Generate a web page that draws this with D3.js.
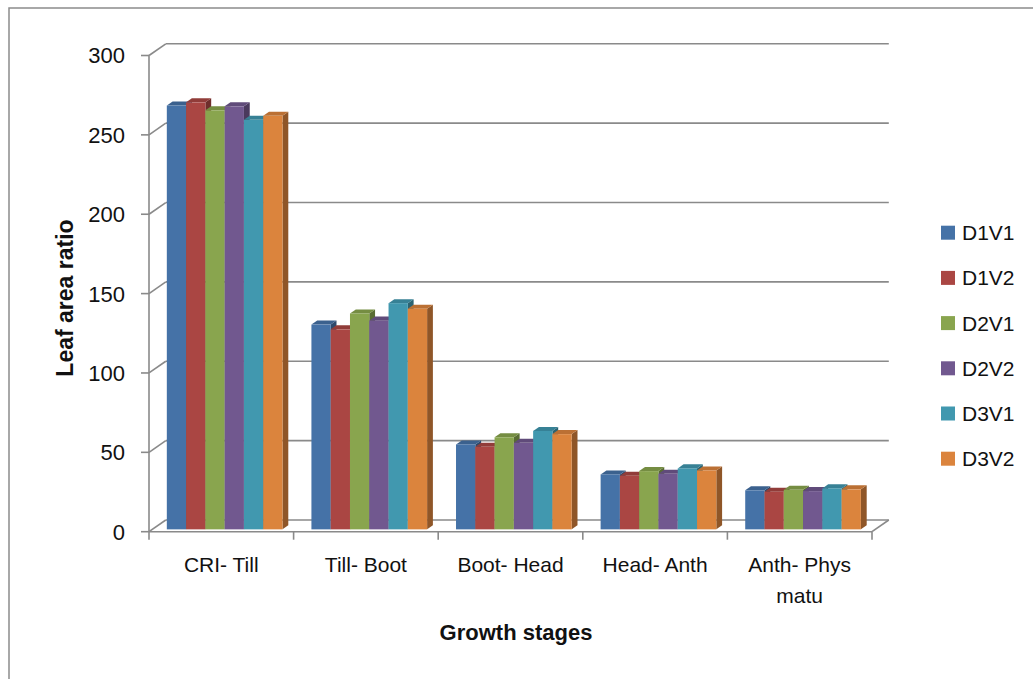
<!DOCTYPE html>
<html>
<head>
<meta charset="utf-8">
<script src="https://cdn.jsdelivr.net/npm/d3@7"></script>
<style>
  html, body { margin: 0; padding: 0; background: #fff; }
  svg { display: block; font-family: "Liberation Sans", Arial, sans-serif; }
</style>
</head>
<body>
<svg id="chart" width="1033" height="679"></svg>
<script>
// ---- data ----
const categories = ["CRI- Till", "Till- Boot", "Boot- Head", "Head- Anth", "Anth- Phys\nmatu"];
const seriesNames = ["D1V1", "D1V2", "D2V1", "D2V2", "D3V1", "D3V2"];
const D1V1 = [267, 129, 53.5, 34.6, 24.6];
const D1V2 = [269, 126, 52, 33.8, 23.7];
const D2V1 = [264, 136, 58, 36.7, 24.9];
const D2V2 = [266.5, 131.5, 54.5, 35, 24.1];
const D3V1 = [258, 142.5, 62, 38.4, 25.8];
const D3V2 = [260.5, 139, 60, 37.1, 25.2];
const seriesValues = [D1V1, D1V2, D2V1, D2V2, D3V1, D3V2];
const yTicks = [0, 50, 100, 150, 200, 250, 300];
const colors = ["#4572A7", "#AA4643", "#89A54E", "#71588F", "#4198AF", "#DB843D"];

// ---- layout ----
const svg = d3.select("#chart");
const frontLeft = 149, frontRight = 872;
const yFront0 = 531.7, yFront300 = 55.5;
const depthX = 16.8, depthY = -11.7;       // full depth offset of back wall
const barF0 = 0.2, barF1 = 0.545;          // bar front/back depth fractions
const grid = "#8a8a8a";

const x0 = d3.scaleBand().domain(categories).range([frontLeft, frontRight]).padding(0);
const x1 = d3.scaleBand().domain(seriesNames).range([0, x0.bandwidth()])
  .paddingInner(0).paddingOuter(0.75);
const y = d3.scaleLinear().domain([0, 300]).range([yFront0, yFront300]);

// outer border
svg.append("rect").attr("x", 9).attr("y", 8).attr("width", 1040).attr("height", 700)
  .attr("fill", "none").attr("stroke", "#8c8c8c").attr("stroke-width", 1.5);

// back wall gridlines + side wall diagonals
const gG = svg.append("g").attr("stroke", grid).attr("stroke-width", 1.6).attr("fill", "none");
yTicks.forEach(t => {
  const yf = y(t), yb = y(t) + depthY;
  gG.append("line").attr("x1", frontLeft + depthX).attr("x2", frontRight + depthX)
    .attr("y1", yb).attr("y2", yb);
  gG.append("line").attr("x1", frontLeft).attr("y1", yf)
    .attr("x2", frontLeft + depthX).attr("y2", yb);
  gG.append("line").attr("x1", frontLeft - 8).attr("x2", frontLeft).attr("y1", yf).attr("y2", yf);
});
// floor right diagonal
gG.append("line").attr("x1", frontRight).attr("y1", y(0))
  .attr("x2", frontRight + depthX).attr("y2", y(0) + depthY);
// front y axis
gG.append("line").attr("x1", frontLeft).attr("x2", frontLeft).attr("y1", y(300)).attr("y2", y(0));
// front x axis
gG.append("line").attr("x1", frontLeft).attr("x2", frontRight).attr("y1", y(0)).attr("y2", y(0));
// category ticks
const bounds = categories.map(c => x0(c)).concat([frontRight]);
bounds.forEach(bx => {
  gG.append("line").attr("x1", bx).attr("x2", bx).attr("y1", y(0)).attr("y2", y(0) + 8);
});

// y tick labels
svg.append("g").selectAll("text").data(yTicks).join("text")
  .attr("x", 125).attr("y", d => y(d)).attr("dy", "0.36em")
  .attr("text-anchor", "end").attr("font-size", 22).attr("fill", "#111")
  .text(d => d);

// bars
const bars = svg.append("g");
const ox0 = depthX * barF0, oy0 = depthY * barF0;
const dxb = depthX * (barF1 - barF0), dyb = depthY * (barF1 - barF0);
const baseY = y(0) + oy0;
categories.forEach((cat, ci) => {
  seriesNames.forEach((s, si) => {
    const v = seriesValues[si][ci];
    const xl = x0(cat) + x1(s) + ox0;
    const xr = xl + x1.bandwidth();
    const yt = baseY - (y(0) - y(v));
    const col = d3.color(colors[si]);
    const top = col.darker(0.45).formatHex();
    const side = col.darker(1.2).formatHex();
    // side face
    bars.append("path")
      .attr("d", `M${xr},${baseY}L${xr + dxb},${baseY + dyb}L${xr + dxb},${yt + dyb}L${xr},${yt}Z`)
      .attr("fill", side);
    // top face
    bars.append("path")
      .attr("d", `M${xl},${yt}L${xr},${yt}L${xr + dxb},${yt + dyb}L${xl + dxb},${yt + dyb}Z`)
      .attr("fill", top);
    // front face
    bars.append("rect").attr("x", xl).attr("y", yt)
      .attr("width", x1.bandwidth()).attr("height", baseY - yt)
      .attr("fill", colors[si]);
  });
});

// category labels
const cl = svg.append("g").attr("font-size", 21).attr("fill", "#111").attr("text-anchor", "middle");
categories.forEach(cat => {
  const lines = cat.split("\n");
  const t = cl.append("text").attr("x", x0(cat) + x0.bandwidth() / 2).attr("y", 572);
  lines.forEach((ln, i) => {
    t.append("tspan").attr("x", x0(cat) + x0.bandwidth() / 2).attr("y", 572 + i * 31).text(ln);
  });
});

// axis titles
svg.append("text").attr("x", 516).attr("y", 640).attr("text-anchor", "middle")
  .attr("font-size", 22).attr("font-weight", "bold").attr("fill", "#111").text("Growth stages");
svg.append("text").attr("transform", "translate(73,298) rotate(-90)")
  .attr("text-anchor", "middle").attr("font-size", 23).attr("font-weight", "bold")
  .attr("fill", "#111").text("Leaf area ratio");

// legend
const legendY0 = 232.7, legendStep = 45.2;
const lg = svg.append("g");
seriesNames.forEach((s, i) => {
  const cy = legendY0 + i * legendStep;
  lg.append("rect").attr("x", 941).attr("y", cy - 7).attr("width", 14).attr("height", 14)
    .attr("fill", colors[i]);
  lg.append("text").attr("x", 962).attr("y", cy + 7.5).attr("font-size", 21)
    .attr("fill", "#111").text(s);
});
</script>
</body>
</html>
